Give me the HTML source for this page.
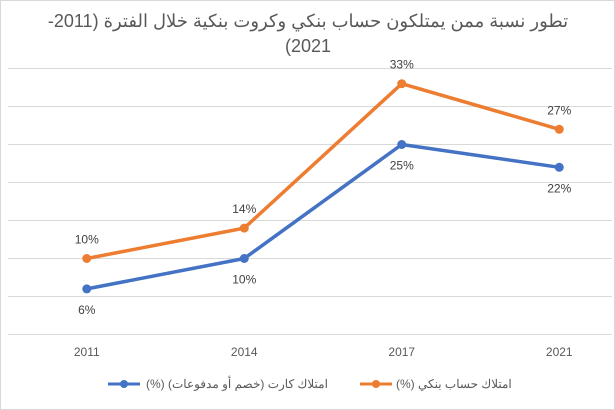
<!DOCTYPE html>
<html><head><meta charset="utf-8"><style>
body{margin:0;background:#fff;font-family:"Liberation Sans","Noto Sans CJK SC",sans-serif}
#c{position:absolute;left:0;top:0;width:615px;height:410px}
</style></head><body>
<svg id="c" width="615" height="410">
<rect x="0.5" y="0.5" width="614" height="409" fill="#fff" stroke="#d9d9d9"/>
<text x="308" y="27" text-anchor="middle" font-size="18" fill="#595959" direction="rtl">تطور نسبة ممن يمتلكون حساب بنكي وكروت بنكية خلال الفترة (2011-</text>
<text x="308" y="52" text-anchor="middle" font-size="18" fill="#595959">(2021</text>
<g id="grid"></g><g id="xl"></g><g id="series"></g>
<g>
<line x1="108" y1="384" x2="140" y2="384" stroke="#4472c4" stroke-width="3"/>
<circle cx="124" cy="384" r="4" fill="#4472c4"/>
<text x="146" y="388" font-size="12" fill="#595959">(%) امتلاك كارت (خصم أو مدفوعات)</text>
<line x1="360" y1="384" x2="392" y2="384" stroke="#ed7d31" stroke-width="3"/>
<circle cx="376" cy="384" r="4" fill="#ed7d31"/>
<text x="396" y="388" font-size="12" fill="#595959">(%) امتلاك حساب بنكي</text>
</g>
</svg>
<script>
const categories=["2011","2014","2017","2021"];
const account=[10,14,33,27];
const card=[6,10,25,22];
const gridTicks=[0,5,10,15,20,25,30,35];
const NS="http://www.w3.org/2000/svg";
const y=v=>334.5-v*7.6;
const x=i=>8+157.5*(i+0.5);
function mk(t,a,p){const e=document.createElementNS(NS,t);for(const k in a)e.setAttribute(k,a[k]);p.appendChild(e);return e;}
const g=document.getElementById('grid');
gridTicks.forEach(t=>{const l=mk('line',{x1:8,x2:612,y1:y(t),y2:y(t),stroke:'#d9d9d9','stroke-width':1},g);

});
const xl=document.getElementById('xl');
categories.forEach((c,i)=>{const t=mk('text',{x:x(i),y:356,'text-anchor':'middle','font-size':12,fill:'#595959'},xl);t.textContent=c;

});
const s=document.getElementById('series');
function draw(vals,color,name,labelDy){
 const p=mk('polyline',{points:vals.map((v,i)=>x(i)+','+y(v)).join(' '),fill:'none',stroke:color,'stroke-width':3.5,'stroke-linejoin':'round'},s);
 
 
 vals.forEach((v,i)=>{
  const c=mk('circle',{cx:x(i),cy:y(v),r:4.5,fill:color},s);
  
  
  const t=mk('text',{x:x(i),y:y(v)+labelDy,'text-anchor':'middle','font-size':12,fill:'#404040'},s);
  t.textContent=v+'%';
  
  
 });
}
draw(card,'#4472c4','card',25);
draw(account,'#ed7d31','account',-15);
</script>
</body></html>
